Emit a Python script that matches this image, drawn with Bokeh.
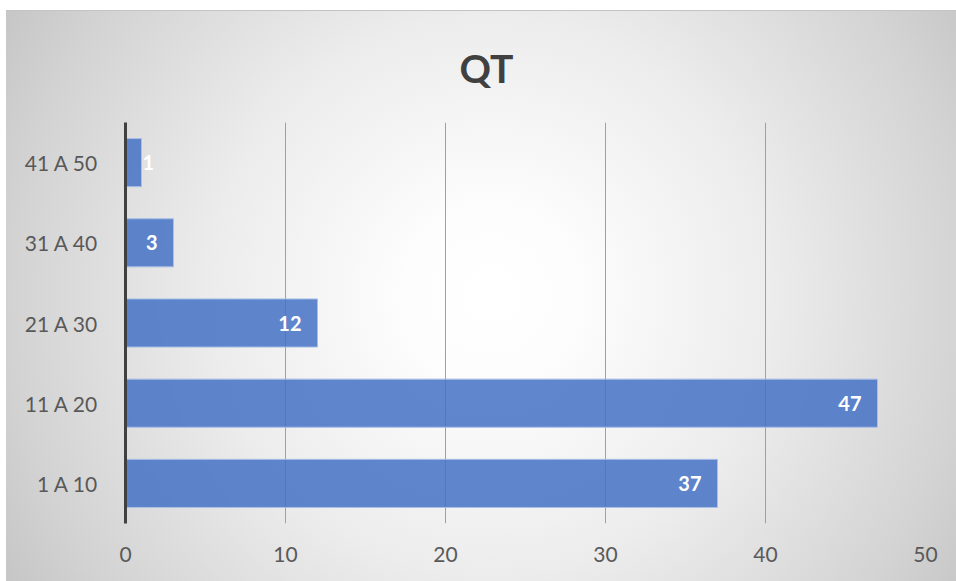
from bokeh.plotting import figure
from bokeh.models import ColumnDataSource, SingleIntervalTicker, FactorRange
from bokeh.core.properties import value
from bokeh.embed import file_html
from bokeh.resources import INLINE

# ---- data ----
categories = ["1 A 10", "11 A 20", "21 A 30", "31 A 40", "41 A 50"]
counts = [37, 47, 12, 3, 1]
x_ticks = [0, 10, 20, 30, 40, 50]
title_text = "QT"

FONT = "Lato"
TXT = "#595959"

# labels: inside end when they fit, else just outside the bar end
aligns = ["right" if v >= 3 else "left" for v in counts]
offsets = [-16 if v >= 3 else 1 for v in counts]
src = ColumnDataSource(dict(cat=categories, val=counts,
                            lbl=[str(v) for v in counts],
                            align=aligns, xoff=offsets))

p = figure(width=950, height=571, output_backend="svg", toolbar_location=None,
           y_range=FactorRange(*categories, range_padding=0),
           x_range=(min(x_ticks), max(x_ticks)),
           min_border_left=119, min_border_right=31,
           min_border_top=112, min_border_bottom=58,
           title=title_text)
p.margin = (10, 0, 0, 6)
p.styles = {
    "background": "radial-gradient(circle farthest-corner at 51% 50%, #ffffff 0%, #fdfdfd 15%, #ececec 50%, #d3d3d3 85%, #c6c6c6 100%)",
    "box-shadow": "inset 0 1px 0 #c4c4c4",
}
p.background_fill_alpha = 0
p.border_fill_alpha = 0
p.outline_line_color = None

p.title.align = "left"
p.title.vertical_align = "top"
p.title.offset = 334
p.title.standoff = 59
p.title.text_line_height = 0.7
p.title.text_font = FONT
p.title.text_font_style = "bold"
p.title.text_font_size = "39px"
p.title.text_color = "#404040"

p.hbar(y="cat", right="val", left=0, height=0.6, source=src,
       fill_color="#4472C4", fill_alpha=0.85,
       line_color="#a9bfe6", line_width=1)

p.text(x="val", y="cat", text="lbl", source=src,
       text_align="align", x_offset="xoff",
       text_baseline="middle", text_color="white",
       text_font=value(FONT), text_font_style="bold",
       text_font_size="20px")

# axes
p.xaxis.ticker = SingleIntervalTicker(interval=10)
p.xaxis.axis_line_color = None
p.xaxis.major_tick_line_color = None
p.xaxis.minor_tick_line_color = None
p.xaxis.major_label_standoff = 17
p.xaxis.major_label_text_font = FONT
p.xaxis.major_label_text_font_size = "21px"
p.xaxis.major_label_text_color = TXT

p.yaxis.axis_line_color = "#404040"
p.yaxis.axis_line_width = 3
p.yaxis.major_tick_line_color = None
p.yaxis.minor_tick_line_color = None
p.yaxis.major_label_standoff = 21
p.yaxis.major_label_text_font = FONT
p.yaxis.major_label_text_font_size = "21px"
p.yaxis.major_label_text_color = TXT

p.xgrid.grid_line_color = "#a0a0a0"
p.xgrid.grid_line_width = 1
p.ygrid.grid_line_color = None

open("out.html", "w").write(file_html(p, INLINE))
